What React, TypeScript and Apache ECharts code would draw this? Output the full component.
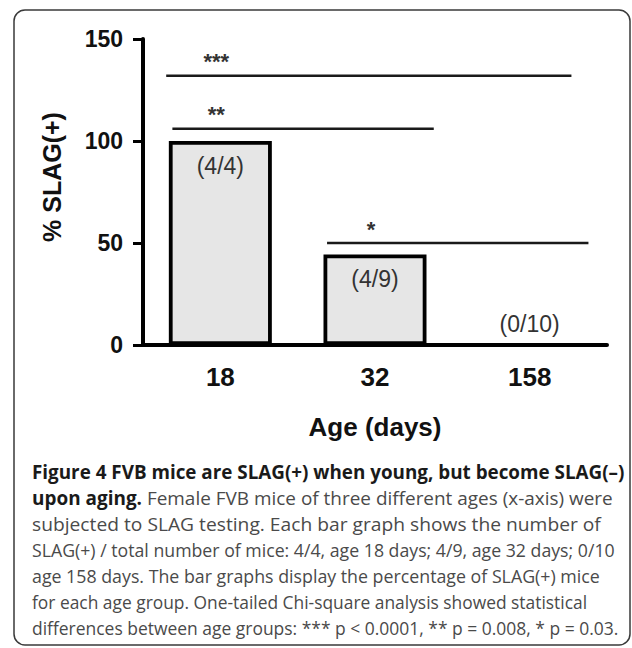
import React, { useEffect, useRef } from 'react';
import * as echarts from 'echarts';

// ---- data ----
const categories = ['18', '32', '158'];
const percentSlag = [100, 44.4, 0];
const countLabels = ['(4/4)', '(4/9)', '(0/10)'];
const yTicks = [0, 50, 100, 150];
const bracketStars = ['***', '**', '*'];
const bracketLevels = [132, 106, 50];
const bracketFrom = [0, 0, 1];
const bracketTo = [2, 1, 2];

const captionBold = [
  'Figure 4 FVB mice are SLAG(+) when young, but become SLAG(\u2013)',
  'upon aging.',
  '',
  '',
  '',
  '',
  '',
];
const captionRest = [
  '',
  ' Female FVB mice of three different ages (x-axis) were',
  'subjected to SLAG testing. Each bar graph shows the number of',
  'SLAG(+) / total number of mice: 4/4, age 18 days; 4/9, age 32 days; 0/10',
  'age 158 days. The bar graphs display the percentage of SLAG(+) mice',
  'for each age group. One-tailed Chi-square analysis showed statistical',
  'differences between age groups: *** p < 0.0001, ** p = 0.008, * p = 0.03.',
];

// ---- layout / style constants ----
const CHART_FONT = '"Liberation Sans", Arial, Helvetica, sans-serif';
const CAP_FONT = '"Open Sans", "Noto Sans", sans-serif';
const CAP_SIZE = 19;
const captionRight = [625, 613, 601, 615, 600, 587, 619];
const bracketPad = [[-0.35, 0.27], [-0.31, 0.38], [-0.31, 0.38]];

export default function App() {
  const ref = useRef<HTMLDivElement>(null);

  useEffect(() => {
    document.body.style.margin = '0';
    const chart = echarts.init(ref.current!, null, { renderer: 'svg' });

    const canvas = document.createElement('canvas');
    const ctx = canvas.getContext('2d')!;
    const measure = (t: string, bold: boolean) => {
      ctx.font = `${bold ? 'bold ' : ''}${CAP_SIZE}px ${CAP_FONT}`;
      return ctx.measureText(t).width;
    };

    const captionGraphics = captionRest.map((rest, i) => {
      const bold = captionBold[i];
      const natural = measure(bold, true) + measure(rest, false);
      const left = 32;
      const k = (captionRight[i] - left) / natural;
      return {
        type: 'text',
        x: left,
        y: 472 + i * 25.9,
        scaleX: k,
        style: {
          x: 0,
          y: 0,
          text: bold ? `{b|${bold}}${rest}` : rest,
          font: `${CAP_SIZE}px ${CAP_FONT}`,
          fill: '#4a4a4a',
          verticalAlign: 'middle',
          align: 'left',
          rich: {
            b: {
              fontWeight: 'bold',
              fontSize: CAP_SIZE,
              fontFamily: CAP_FONT,
              fill: '#1a1a1a',
            },
          },
        },
      };
    });

    const option: any = {
      animation: false,
      backgroundColor: '#ffffff',
      grid: { left: 143, right: 25, top: 39, bottom: 303, containLabel: false },
      xAxis: {
        type: 'category',
        data: categories,
        name: 'Age (days)',
        nameLocation: 'middle',
        nameGap: 69,
        nameTextStyle: { fontFamily: CHART_FONT, fontWeight: 'bold', fontSize: 26, color: '#111' },
        axisLine: { lineStyle: { color: '#000', width: 4 } },
        axisTick: { alignWithLabel: true, length: 11, lineStyle: { color: '#000', width: 3 } },
        axisLabel: { margin: 19, fontFamily: CHART_FONT, fontWeight: 'bold', fontSize: 26, color: '#111' },
        splitLine: { show: false },
      },
      yAxis: {
        type: 'value',
        min: yTicks[0],
        max: yTicks[yTicks.length - 1],
        interval: yTicks[1] - yTicks[0],
        axisLine: { show: true, lineStyle: { color: '#000', width: 4 } },
        axisTick: { show: true, length: 10, lineStyle: { color: '#000', width: 3 } },
        axisLabel: { margin: 20, fontFamily: CHART_FONT, fontWeight: 'bold', fontSize: 23, color: '#111' },
        splitLine: { show: false },
      },
      series: [
        {
          type: 'bar',
          data: percentSlag.map((v) =>
            v === 0
              ? { value: v, label: { position: 'top', distance: 8 } }
              : { value: v }
          ),
          barWidth: 103,
          itemStyle: { color: '#e6e6e6', borderColor: '#000', borderWidth: 3.8 },
          label: {
            show: true,
            position: 'insideTop',
            distance: 13,
            formatter: (p: any) => countLabels[p.dataIndex],
            fontFamily: CHART_FONT,
            fontSize: 23,
            color: '#333',
          },
          z: 2,
        },
        {
          type: 'custom',
          coordinateSystem: 'cartesian2d',
          encode: { x: [0, 1], y: 2 },
          data: bracketLevels.map((lv, i) => [bracketFrom[i], bracketTo[i], lv]),
          renderItem: (params: any, api: any) => {
            const i = params.dataIndex;
            const a = api.coord([api.value(0), api.value(2)]);
            const b = api.coord([api.value(1), api.value(2)]);
            const band = api.size([1, 0])[0];
            const pad = bracketPad[i];
            const x1 = a[0] + pad[0] * band;
            const x2 = b[0] + pad[1] * band;
            return {
              type: 'group',
              children: [
                {
                  type: 'line',
                  shape: { x1, y1: a[1], x2, y2: a[1] },
                  style: { stroke: '#1a1a1a', lineWidth: 2.5 },
                },
                {
                  type: 'text',
                  x: a[0] - 4,
                  y: a[1] - 3,
                  style: {
                    text: bracketStars[i],
                    align: 'center',
                    verticalAlign: 'bottom',
                    font: `bold 22px ${CHART_FONT}`,
                    fill: '#333',
                  },
                },
              ],
            };
          },
          z: 3,
        },
      ],
      graphic: [
        {
          type: 'rect',
          shape: { x: 14, y: 10, width: 616, height: 635, r: 11 },
          style: { fill: 'none', stroke: '#3a3a3a', lineWidth: 1.5 },
          silent: true,
        },
        {
          type: 'text',
          x: 52,
          y: 177,
          rotation: Math.PI / 2,
          style: {
            text: '% SLAG(+)',
            align: 'center',
            verticalAlign: 'middle',
            font: `bold 25px ${CHART_FONT}`,
            fill: '#111',
          },
        },
        ...captionGraphics,
      ],
    };

    chart.setOption(option);
    return () => chart.dispose();
  }, []);

  return (
    <div
      ref={ref}
      style={{ position: 'fixed', left: 0, top: 0, width: 632, height: 648, background: '#fff' }}
    />
  );
}
